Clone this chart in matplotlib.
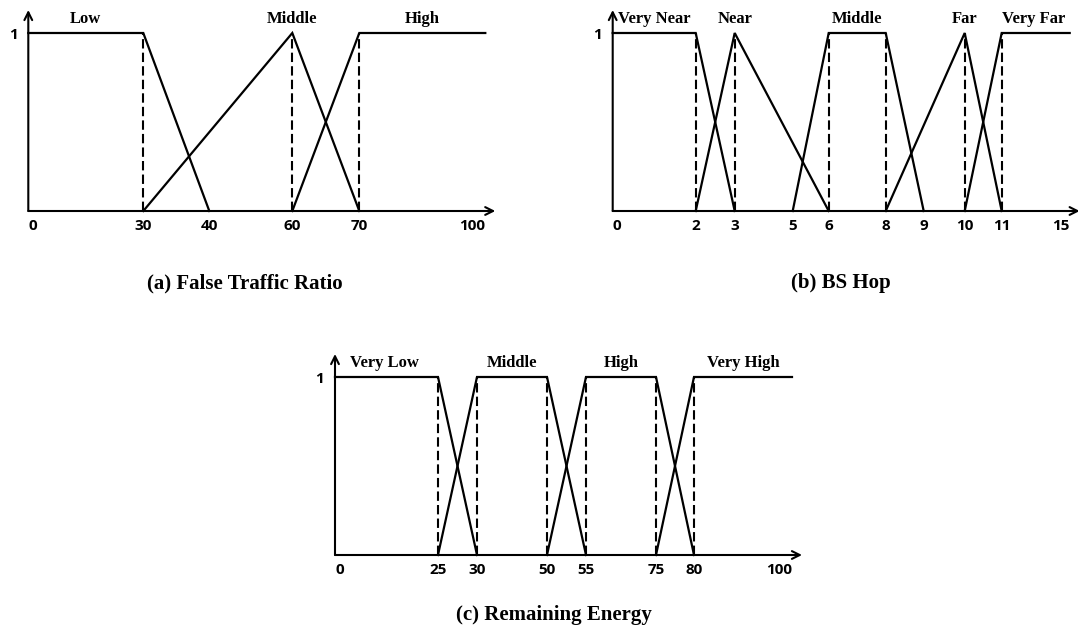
import matplotlib
matplotlib.use('Agg')
import matplotlib.pyplot as plt
import numpy as np

# ---- data ----
# (a) False Traffic Ratio
ftr_ticks = [0, 30, 40, 60, 70, 100]
ftr_sets = ['Low', 'Middle', 'High']
ftr_x = [[0, 30, 40], [30, 60, 70], [60, 70, 100]]
ftr_y = [[1, 1, 0], [0, 1, 0], [0, 1, 1]]
ftr_dashed = [30, 60, 70]
ftr_label_x = [15, 60, 85]

# (b) BS Hop
hop_ticks = [0, 2, 3, 5, 6, 8, 9, 10, 11, 15]
hop_sets = ['Very Near', 'Near', 'Middle', 'Far', 'Very Far']
hop_x = [[0, 2, 3], [2, 3, 6], [5, 6, 8, 9], [8, 10, 11], [10, 11, 15]]
hop_y = [[1, 1, 0], [0, 1, 0], [0, 1, 1, 0], [0, 1, 0], [0, 1, 1]]
hop_dashed = [2, 3, 6, 8, 10, 11]
hop_label_x = [1, 3, 7, 10, 12.85]

# (c) Remaining Energy
re_ticks = [0, 25, 30, 50, 55, 75, 80, 100]
re_sets = ['Very Low', 'Middle', 'High', 'Very High']
re_x = [[0, 25, 30], [25, 30, 50, 55], [50, 55, 75, 80], [75, 80, 100]]
re_y = [[1, 1, 0], [0, 1, 1, 0], [0, 1, 1, 0], [0, 1, 1]]
re_dashed = [25, 30, 50, 55, 75, 80]
re_label_x = [12, 40, 65, 90]

# the drawing is schematic: tick spacing is not linear, so use a piecewise scale
ftr_tick_px = [0, 115, 181, 264, 331, 457]
hop_tick_px = [0, 83, 122, 180, 216, 273, 311, 352, 389, 457]
re_tick_px = [0, 103, 142, 212, 251, 321, 359, 457]

W, H = 1078, 631
fig = plt.figure(figsize=(W / 100, H / 100), dpi=100)

serif = 'Liberation Serif'
sans = ['Open Sans', 'DejaVu Sans']


def panel(left, base, ticks, tick_px, names, xs, ys, dashed, label_x, caption, cap_xy):
    width, height = 457, 178
    ax = fig.add_axes([left / W, 1 - base / H, width / W, height / H])
    vals, px = list(ticks), list(tick_px)
    ax.set_xscale('function', functions=(lambda v: np.interp(v, vals, px),
                                         lambda p: np.interp(p, px, vals)))
    ax.set_xlim(ticks[0], ticks[-1])
    ax.set_ylim(0, 1)
    ax.axis('off')

    # axes with arrow heads
    ax.annotate('', xy=(1 + 10 / width, 0), xytext=(0, 0), xycoords='axes fraction',
                arrowprops=dict(arrowstyle='->', lw=1.5, color='black', mutation_scale=14,
                                shrinkA=0, shrinkB=0), annotation_clip=False)
    ax.annotate('', xy=(0, 1 + 23 / height), xytext=(0, 0), xycoords='axes fraction',
                arrowprops=dict(arrowstyle='->', lw=1.5, color='black', mutation_scale=14,
                                shrinkA=0, shrinkB=0), annotation_clip=False)

    for x, y in zip(xs, ys):
        ax.plot(x, y, color='black', lw=1.6, clip_on=False, solid_joinstyle='miter')
    for d in dashed:
        ax.plot([d, d], [0, 1], color='black', lw=1.5, ls=(0, (4.5, 2)), clip_on=False)

    for n, lx in zip(names, label_x):
        ax.text(lx, 1.08, n, ha='center', va='center', fontsize=12,
                family=serif, weight='bold')

    for i, t in enumerate(ticks):
        ha = 'center'
        if i == 0:
            ha = 'left'
        elif i == len(ticks) - 1:
            ha = 'right'
        ax.text(t, -0.082, str(t), ha=ha, va='center', fontsize=11,
                family=sans, weight='bold')
    ax.text(-15 / width, 0.99, '1', transform=ax.transAxes, ha='center', va='center',
            fontsize=11, family=sans, weight='bold')

    fig.text(cap_xy[0] / W, 1 - cap_xy[1] / H, caption, ha='center', va='center',
             fontsize=15, family=serif, weight='bold')


panel(28.3, 211, ftr_ticks, ftr_tick_px, ftr_sets, ftr_x, ftr_y, ftr_dashed, ftr_label_x,
      '(a) False Traffic Ratio', (245, 283))
panel(612.7, 211, hop_ticks, hop_tick_px, hop_sets, hop_x, hop_y, hop_dashed, hop_label_x,
      '(b) BS Hop', (841, 283))
panel(335, 555, re_ticks, re_tick_px, re_sets, re_x, re_y, re_dashed, re_label_x,
      '(c) Remaining Energy', (554, 615))

fig.savefig('out.png', dpi=100, facecolor='white')
